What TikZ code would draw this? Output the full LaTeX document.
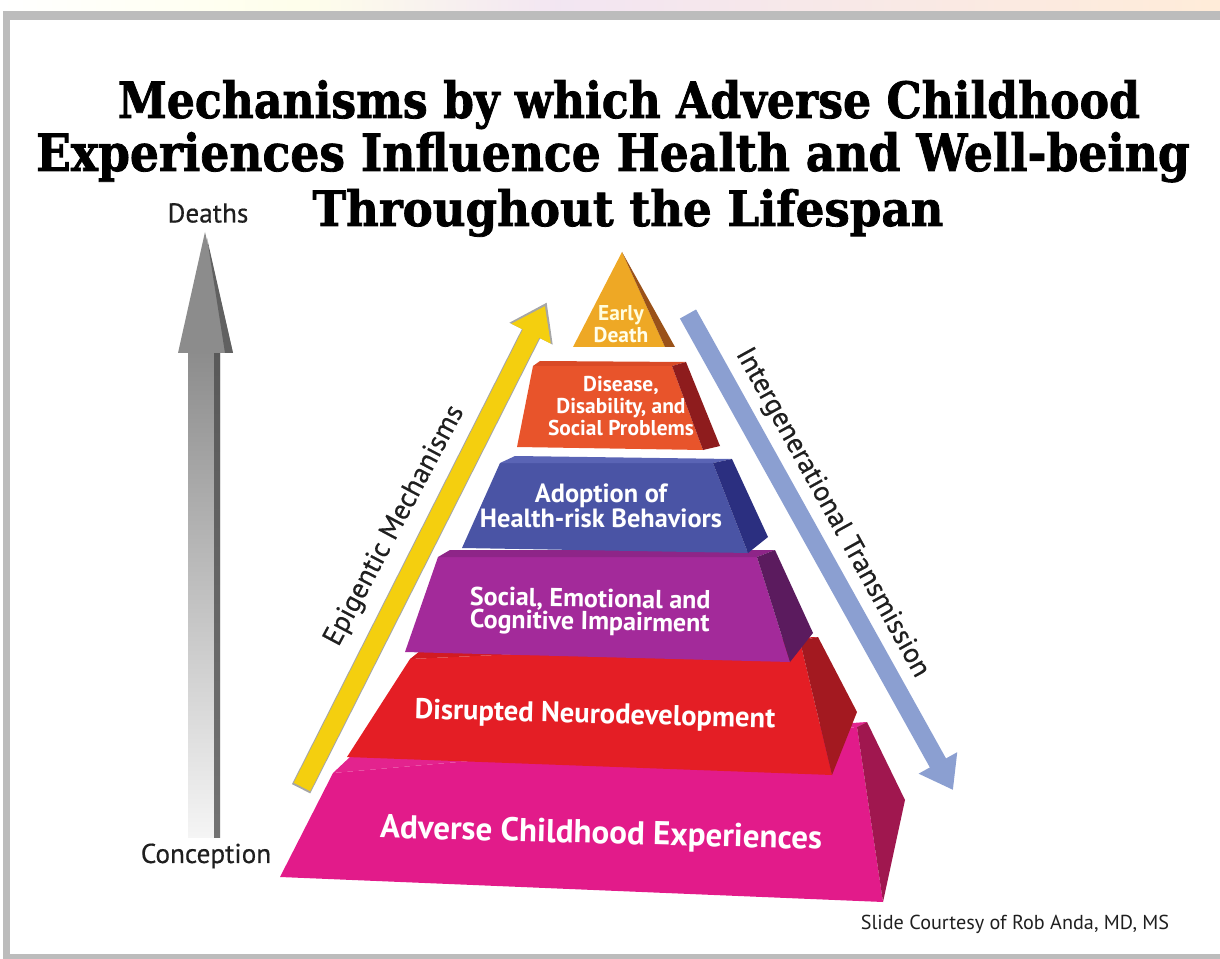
\documentclass[tikz,border=0pt]{standalone}
\usepackage{fontspec}
\setmainfont{PT Sans}
\newfontfamily\titlefont{DejaVu Serif}[BoldFeatures={FakeBold=1.6}]
\newfontfamily\sidefont{PT Sans}[FakeBold=0.5]
\usepackage{tikz}
\usetikzlibrary{arrows.meta,calc}

\definecolor{framegray}{HTML}{BCBCBC}
\definecolor{deathfront}{HTML}{EEA825}
\definecolor{deathside}{HTML}{9A5219}
\definecolor{diseasefront}{HTML}{E8542B}
\definecolor{diseaseside}{HTML}{8E1C1D}
\definecolor{diseasetop}{HTML}{D94A26}
\definecolor{riskfront}{HTML}{4A54A5}
\definecolor{riskside}{HTML}{2B2F80}
\definecolor{risktop}{HTML}{5A64B5}
\definecolor{socialfront}{HTML}{A32A9A}
\definecolor{socialside}{HTML}{5B1B5E}
\definecolor{socialtop}{HTML}{8E2588}
\definecolor{neurofront}{HTML}{E41E25}
\definecolor{neuroside}{HTML}{A31920}
\definecolor{neurotop}{HTML}{D11B22}
\definecolor{acefront}{HTML}{E21B8A}
\definecolor{aceside}{HTML}{A0174F}
\definecolor{acetop}{HTML}{E3238E}
\definecolor{epiyellow}{HTML}{F4CF0F}
\definecolor{transblue}{HTML}{8B9FD1}

\newcommand\labsize[2]{\fontsize{#1}{#2}\selectfont}

\tikzset{
  layertext/.style={text=white, align=center, inner sep=0pt, font=\bfseries},
  sidetext/.style={text=black!88, inner sep=0pt},
  titleline/.style={anchor=base, inner sep=0pt},
  fatarrow/.style={line width=0.37cm, -{Triangle[width=0.84cm, length=0.62cm]}}
}

\begin{document}
\begin{tikzpicture}[x=0.02cm, y=-0.02cm]
\useasboundingbox (0,0) rectangle (1220,959);

\shade[left color=white, right color=black!3!yellow!8] (0,0) rectangle (300,11);
\shade[left color=black!3!yellow!8, right color=violet!10] (300,0) rectangle (560,11);
\shade[left color=violet!10, right color=orange!15] (560,0) rectangle (1220,11);
\fill[framegray] (3,11) rectangle (1220,20);
\fill[framegray] (3,11) rectangle (10,959);
\fill[framegray] (3,954) rectangle (1220,959);

\node[titleline] (title1) at (629,118)
  {\resizebox{20.44cm}{0.76cm}{\titlefont\bfseries Mechanisms by which Adverse Childhood}};
\node[titleline] (title2) at (613,171)
  {\resizebox{23.08cm}{0.78cm}{\titlefont\bfseries Experiences Influence Health and Well-being}};
\node[titleline] (title3) at (628,226)
  {\resizebox{12.62cm}{0.74cm}{\titlefont\bfseries Throughout the Lifespan}};

\node[sidetext, font=\sidefont\labsize{15.5pt}{18pt}] (deaths) at (208,213) {Deaths};
\node[sidetext, font=\sidefont\labsize{15.5pt}{18pt}] (conception) at (206,856) {Conception};
\shade[top color=black!45, bottom color=black!4] (188,352) rectangle (220,837);
\shade[top color=black!65, bottom color=black!55] (214,352) rectangle (220,837);
\fill[black!45] (205,232) -- (178,353) -- (233,353) -- cycle;
\fill[black!62] (207,238) -- (233,353) -- (225,353) -- cycle;

\fill[acefront] (280,877) -- (333,773) -- (857,727) -- (883,902) -- cycle;
\fill[acetop] (333,773) -- (350,757) -- (867,722) -- (857,727) -- cycle;
\fill[aceside] (857,727) -- (867,722) -- (905,800) -- (883,902) -- cycle;

\fill[neurofront] (347,757) -- (410,659) -- (800,641) -- (832,775) -- cycle;
\fill[neurotop] (410,659) -- (420,651) -- (818,637) -- (800,641) -- cycle;
\fill[neuroside] (800,641) -- (818,637) -- (857,712) -- (832,775) -- cycle;

\fill[socialfront] (405,652) -- (438,557) -- (757,557) -- (790,662) -- cycle;
\fill[socialtop] (438,557) -- (450,550) -- (775,550) -- (757,557) -- cycle;
\fill[socialside] (757,557) -- (775,550) -- (813,633) -- (790,662) -- cycle;

\fill[riskfront] (462,548) -- (500,463) -- (713,463) -- (748,553) -- cycle;
\fill[risktop] (500,463) -- (515,456) -- (732,459) -- (713,463) -- cycle;
\fill[riskside] (713,463) -- (732,459) -- (768,537) -- (748,553) -- cycle;

\fill[diseasefront] (517,447) -- (533,366) -- (672,366) -- (703,450) -- cycle;
\fill[diseasetop] (533,366) -- (540,361) -- (686,362) -- (672,366) -- cycle;
\fill[diseaseside] (672,366) -- (686,362) -- (720,446) -- (703,450) -- cycle;

\fill[deathfront] (573,347) -- (622,252) -- (665,347) -- cycle;
\fill[deathside] (622,252) -- (675,347) -- (665,347) -- cycle;

\node[layertext, font=\bfseries\labsize{18.8pt}{21pt}, rotate=-1.5] (ace) at (601,835)
  {Adverse Childhood Experiences};
\node[layertext, font=\bfseries\labsize{16.3pt}{19pt}, rotate=-1.5] (neuro) at (595,716)
  {Disrupted Neurodevelopment};
\node[layertext, font=\bfseries\labsize{14.8pt}{13pt}, rotate=-1] (social) at (590,612)
  {Social, Emotional and\\Cognitive Impairment};
\node[layertext, font=\bfseries\labsize{15pt}{14pt}] (risk) at (601,506)
  {Adoption of\\Health-risk Behaviors};
\node[layertext, font=\bfseries\labsize{12.2pt}{12.5pt}] (disease) at (621,406)
  {Disease,\\Disability, and\\Social Problems};
\node[layertext, text=yellow!8, font=\bfseries\labsize{12.2pt}{12.5pt}] (death) at (621,324)
  {\textcolor{yellow!15!white!85}{Early}\\Death};

\coordinate (epiTail) at (302,787);
\coordinate (epiTip) at (545,306);
\draw[fatarrow, draw=black!35, line width=0.41cm, -{Triangle[width=0.92cm, length=0.7cm]}]
  ($(epiTail)!-0.04cm!(epiTip)$) -- ($(epiTip)!-0.08cm!(epiTail)$);
\draw[fatarrow, draw=epiyellow] (epiTail) -- (epiTip);
\node[sidetext, font=\sidefont\labsize{16pt}{19pt}, rotate=62] (epi) at (395,526) {Epigentic Mechanisms};

\coordinate (transTail) at (688,314);
\coordinate (transTip) at (953,790);
\draw[fatarrow, draw=transblue] (transTail) -- (transTip);
\node[sidetext, font=\sidefont\labsize{16pt}{19pt}, rotate=-61] (trans) at (832,513) {Intergenerational Transmission};

\node[sidetext, font=\labsize{11.5pt}{14pt}] (credit) at (1015,924) {Slide Courtesy of Rob Anda, MD, MS};
\end{tikzpicture}
\end{document}
